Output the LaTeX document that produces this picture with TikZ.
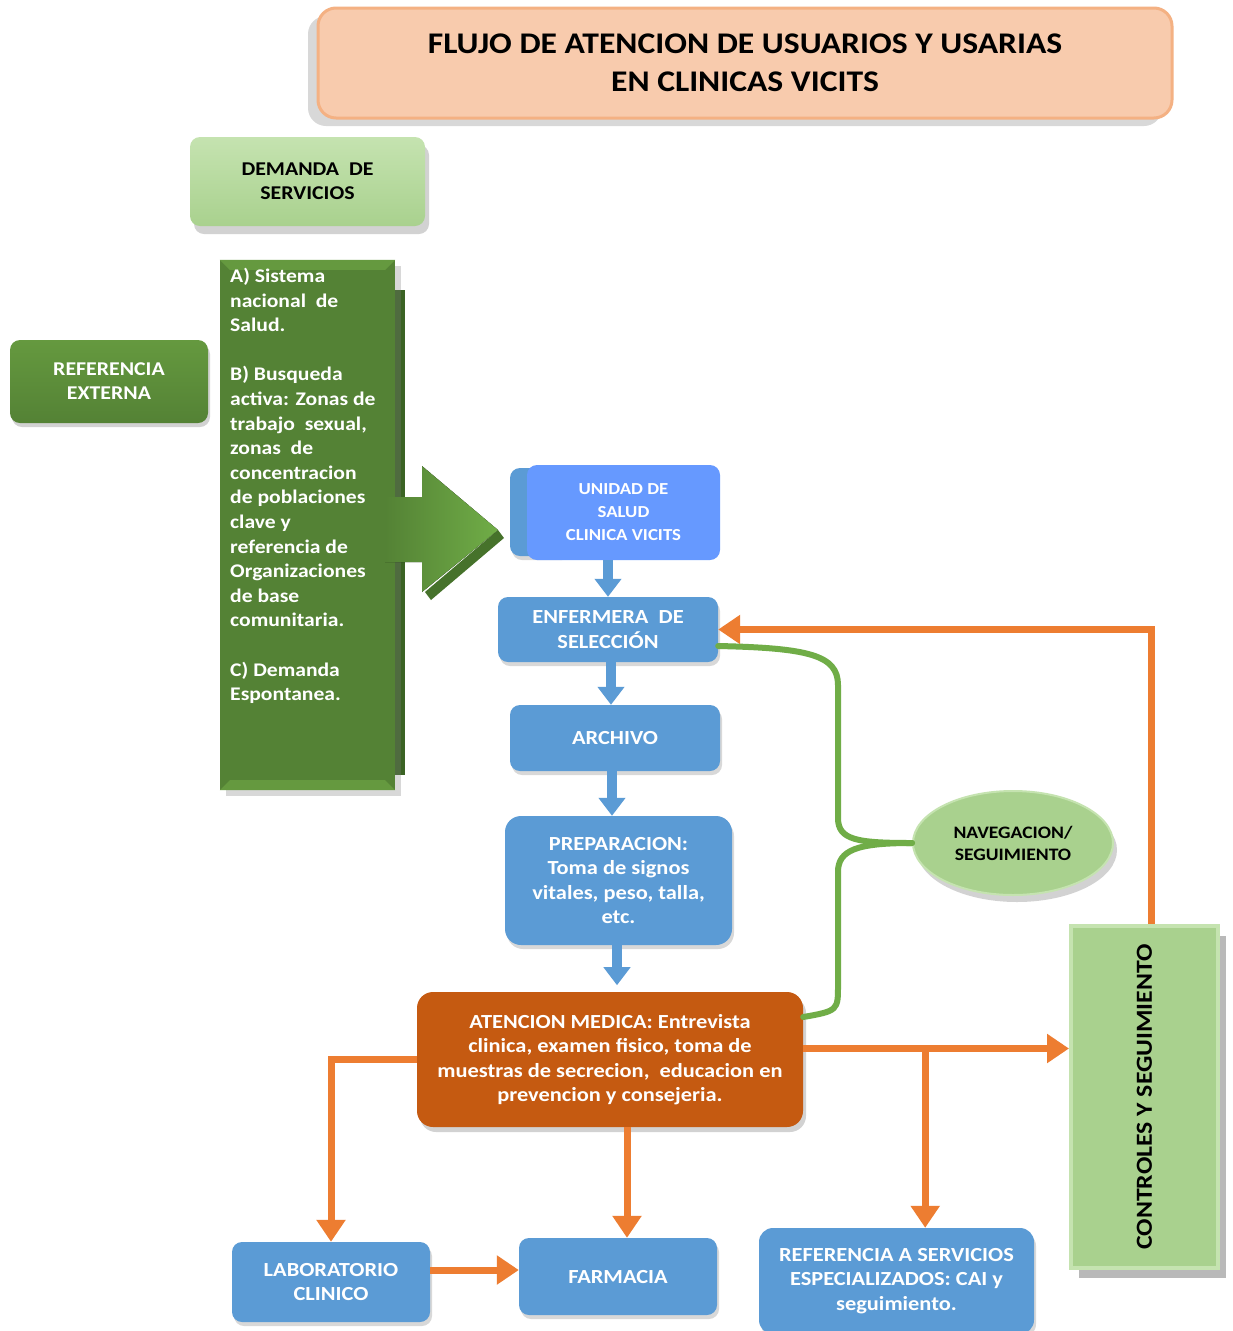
\documentclass[tikz,border=0pt]{standalone}
\usepackage{fontspec}
\setmainfont{Carlito}[FakeStretch=1.12]
\usetikzlibrary{shapes.geometric,arrows.meta,shadows,calc}
\definecolor{dgreen}{HTML}{548235}
\definecolor{dgreenD}{HTML}{3B6324}
\definecolor{dgreenL}{HTML}{65993F}
\definecolor{lgreen}{HTML}{A9D18E}
\definecolor{lgreenL}{HTML}{C5E3B0}
\definecolor{mblue}{HTML}{5B9BD5}
\definecolor{bblue}{HTML}{6699FF}
\definecolor{rust}{HTML}{C55A11}
\definecolor{orng}{HTML}{ED7D31}
\definecolor{lngreen}{HTML}{70AD47}
\definecolor{peach}{HTML}{F8CBAD}
\definecolor{peachrim}{HTML}{F4B183}
\begin{document}
\begin{tikzpicture}[x=1pt,y=-1pt,
  box/.style={rounded corners=10pt, inner sep=0pt, align=center,
    font=\bfseries\fontsize{20}{24.5}\selectfont},
  shad/.style={drop shadow={shadow xshift=2pt,shadow yshift=-4pt,opacity=.3}},
  bluebox/.style={box, shad, fill=mblue, text=white},
  oarrow/.style={draw=orng, line width=7pt, -{Triangle[width=28pt,length=22pt]}},
  barrow/.style={draw=mblue, line width=10pt, -{Triangle[width=26pt,length=18pt]}},
  gline/.style={draw=lngreen, line width=6pt, line cap=round}
]
\useasboundingbox (0,0) rectangle (1232,1331);
\fill[white] (0,0) rectangle (1232,1331);

% Title
\node[box, rounded corners=18pt, minimum width=854pt, minimum height=110pt,
  fill=peach, draw=peachrim, line width=3pt,
  drop shadow={shadow xshift=-10pt,shadow yshift=-8pt,opacity=.3},
  font=\bfseries\fontsize{30}{38}\selectfont, text=black]
  (title) at (745,63) {FLUJO DE ATENCION DE USUARIOS Y USARIAS\\EN CLINICAS VICITS};

% Demanda
\node[box, minimum width=235pt, minimum height=89pt, top color=lgreenL, bottom color=lgreen,
  drop shadow={shadow xshift=4pt,shadow yshift=-8pt,opacity=.35}, text=black,
  font=\bfseries\fontsize{19.5}{24}\selectfont]
  (dem) at (307.5,181.5) {DEMANDA\ \ DE\\SERVICIOS};

% Referencia externa
\node[box, minimum width=198pt, minimum height=83pt, top color=dgreenL, bottom color=dgreen,
  drop shadow={shadow xshift=2pt,shadow yshift=-4pt,opacity=.35}, text=white,
  font=\bfseries\fontsize{19.5}{24}\selectfont]
  (refext) at (109,381.5) {REFERENCIA\\EXTERNA};

% Big dark green box with bevel
\fill[dgreenD] (395,290) rectangle (405,775);
\node[inner sep=0pt, minimum width=175pt, minimum height=530pt, fill=dgreen,
  drop shadow={shadow xshift=6pt,shadow yshift=-6pt,opacity=.3}]
  (big) at (307.5,525) {};
\fill[dgreenL] (big.north west) -- (big.north east) -- ([xshift=-10pt,yshift=-10pt]big.north east) -- ([xshift=10pt,yshift=-10pt]big.north west) -- cycle;
\fill[dgreenL] (big.south west) -- (big.south east) -- ([xshift=-10pt,yshift=10pt]big.south east) -- ([xshift=10pt,yshift=10pt]big.south west) -- cycle;
\node[anchor=north west, inner sep=0pt, align=left, text=white,
  font=\bfseries\fontsize{19.3}{24.6}\selectfont]
  (bigtxt) at (230,268) {A) Sistema\\nacional\ \ de\\Salud.\\[24.6pt]B) Busqueda\\activa: Zonas de\\trabajo\ \ sexual,\\zonas\ \ de\\concentracion\\de poblaciones\\clave y\\referencia de\\Organizaciones\\de base\\comunitaria.\\[24.6pt]C) Demanda\\Espontanea.};

% Big green arrow
\fill[dgreenD!80!lngreen] (498,530) -- (504,538) -- (431,600) -- (425,592) -- cycle;
\fill[left color=dgreen, right color=lngreen]
  (385,497) -- (422,497) -- (422,466) -- (498,530) -- (422,592) -- (422,562) -- (385,562) -- cycle;

% Unidad de salud
\node[inner sep=0pt, rounded corners=10pt, minimum width=60pt, minimum height=88pt, fill=mblue, shad]
  (uniback) at (540,512) {};
\node[box, minimum width=193pt, minimum height=95pt, fill=bblue, text=white,
  font=\bfseries\fontsize{16.8}{23}\selectfont]
  (uni) at (623.5,512.5) {UNIDAD DE\\SALUD\\CLINICA VICITS};

% Blue flow boxes
\node[bluebox, minimum width=220pt, minimum height=65pt] (enf) at (608,629.5) {ENFERMERA\ \ DE\\SELECCIÓN};
\node[bluebox, minimum width=210pt, minimum height=66pt] (arch) at (615,738) {ARCHIVO};
\node[bluebox, rounded corners=16pt, minimum width=227pt, minimum height=129pt] (prep) at (618.5,880.5)
  {PREPARACION:\\Toma de signos\\vitales, peso, talla,\\etc.};
\node[box, rounded corners=16pt, minimum width=386pt, minimum height=135pt, fill=rust, text=white,
  drop shadow={shadow xshift=3pt,shadow yshift=-5pt,opacity=.35}]
  (aten) at (610,1059.5) {ATENCION MEDICA: Entrevista\\clinica,\ examen fisico, toma de\\muestras\ de secrecion,\ \ educacion\ en\\prevencion\ y consejeria.};
\node[bluebox, minimum width=198pt, minimum height=80pt] (lab) at (331,1282) {LABORATORIO\\CLINICO};
\node[bluebox, minimum width=198pt, minimum height=77pt] (farm) at (618,1276.5) {FARMACIA};
\node[bluebox, rounded corners=14pt, minimum width=275pt, minimum height=106pt] (ref) at (896.5,1281)
  {REFERENCIA A SERVICIOS\\ESPECIALIZADOS: CAI y\\seguimiento.};

% Controles y seguimiento
\node[inner sep=0pt, minimum width=147pt, minimum height=342pt, fill=lgreen, draw=lgreenL, line width=4pt,
  drop shadow={shadow xshift=8pt,shadow yshift=-10pt,opacity=.55},
  font=\bfseries\fontsize{23}{28}\selectfont, text=black]
  (ctrl) at (1144.5,1097) {\rotatebox{90}{CONTROLES Y SEGUIMIENTO}};

% Navegacion ellipse
\node[ellipse, inner sep=0pt, minimum width=200pt, minimum height=104pt, fill=lgreen, draw=lgreenL, line width=2pt,
  drop shadow={shadow xshift=4pt,shadow yshift=-7pt,opacity=.35}, align=center,
  font=\bfseries\fontsize{17.5}{22}\selectfont, text=black]
  (nav) at (1013,843) {NAVEGACION/\\SEGUIMIENTO};

% Blue arrows
\draw[barrow] (enf.north |- uni.south) -- (enf.north);
\draw[barrow] ([xshift=3pt]enf.south) -- ([xshift=3pt]enf.south |- arch.north);
\draw[barrow] ([xshift=-3pt]arch.south) -- ([xshift=-3pt]arch.south |- prep.north);
\draw[barrow] ([xshift=-1.5pt]prep.south) -- ([xshift=-1.5pt,yshift=-40pt]prep.south);

% Green brace lines
\draw[gline] ([yshift=-16.5pt]enf.east) .. controls +(90,2) and +(0,-30) .. (838,685) -- (838,818)
  .. controls +(0,22) and +(-55,0) .. (nav.west);
\draw[gline] ([yshift=42.5pt]aten.east) .. controls +(35,-6) and +(0,25) .. (838,985) -- (838,872)
  .. controls +(0,-22) and +(-55,0) .. (nav.west);

% Orange arrows
\draw[oarrow] ([xshift=7pt]ctrl.north) |- (enf.east);
\coordinate (a1) at ([yshift=11pt]aten.east);
\draw[oarrow] (a1) -- (a1 -| ctrl.west);
\coordinate (br) at ($(a1)+(122,0)$);
\draw[oarrow] (br) -- (br |- ref.north);
\draw[oarrow] (aten.west) -| (lab.north);
\draw[oarrow] ([xshift=17pt]aten.south) -- ([xshift=17pt]aten.south |- farm.north);
\draw[oarrow] ([yshift=12pt]lab.east) -- ([yshift=12pt]lab.east -| farm.west);
\end{tikzpicture}
\end{document}
